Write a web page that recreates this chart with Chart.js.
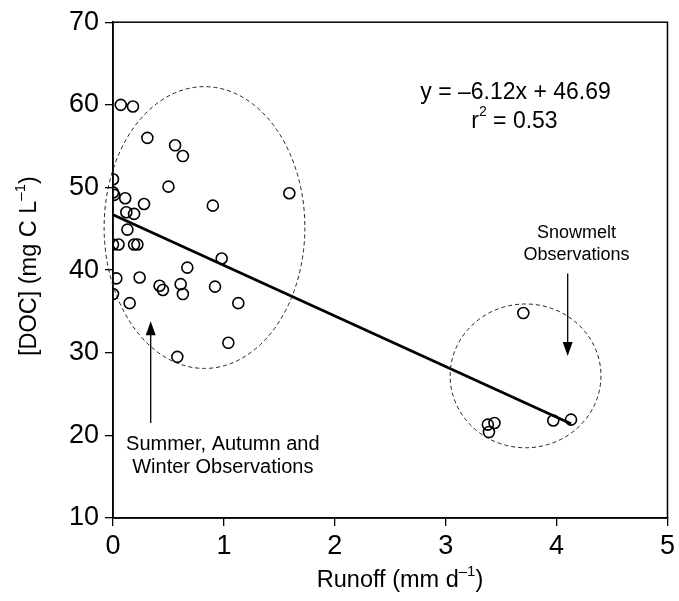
<!DOCTYPE html>
<html>
<head>
<meta charset="utf-8">
<script src="https://cdn.jsdelivr.net/npm/chart.js@4/dist/chart.umd.min.js"></script>
<style>
  html, body { margin: 0; padding: 0; background: #fff; }
  #wrap { width: 679px; height: 601px; }
</style>
</head>
<body>
<div id="wrap"><canvas id="docChart" width="679" height="601"></canvas></div>
<script>
// Runoff (mm/d) vs stream DOC (mg C/L)
const summerRunoff = [0.07, 0.18, 0.31, 0.56, 0.63, 0.00, 0.00, 0.01, 0.50, 1.59,
                      0.11, 0.28, 0.90, 0.12, 0.19, 0.13, 0.00, 0.05, 0.19, 0.22,
                      0.98, 0.67, 0.03, 0.24, 0.61, 0.92, 0.42, 0.45, 0.63, 0.00,
                      0.15, 1.13, 1.04, 0.58];
const summerDoc    = [60.0, 59.8, 56.0, 55.1, 53.8, 51.0, 49.4, 49.1, 50.1, 49.3,
                      48.7, 48.0, 47.8, 47.0, 46.8, 44.9, 43.1, 43.1, 43.1, 43.1,
                      41.4, 40.3, 39.0, 39.1, 38.3, 38.0, 38.1, 37.6, 37.1, 37.1,
                      36.0, 36.0, 31.2, 29.5];
const snowRunoff = [3.70, 3.38, 3.44, 3.39, 3.97, 4.13];
const snowDoc    = [34.8, 21.3, 21.5, 20.4, 21.8, 21.9];

// least-squares fit as printed on the chart
const fitSlope = -6.12;
const fitIntercept = 46.69;
const fitRange = [0, 4.13];

const xTicks = [0, 1, 2, 3, 4, 5];
const yTicks = [10, 20, 30, 40, 50, 60, 70];

// dashed groupings: [centre x, centre y, radius x, radius y] in data units
const groupEllipses = [
  [0.825, 45.15, 0.905, 17.05],
  [3.72, 27.2, 0.68, 8.7]
];

const FONT = "'Liberation Sans', Arial, Helvetica, sans-serif";

const points = (xs, ys) => xs.map((x, i) => ({ x: x, y: ys[i] }));
const fitLine = fitRange.map(x => ({ x: x, y: fitIntercept + fitSlope * x }));

// text with an optional superscript piece, centred on (x, y)
function drawSupText(ctx, parts, x, y, size) {
  const small = Math.round(size * 0.62);
  let total = 0;
  parts.forEach(p => {
    ctx.font = (p.sup ? small : size) + 'px ' + FONT;
    p.w = ctx.measureText(p.t).width;
    total += p.w;
  });
  let cx = x - total / 2;
  ctx.textAlign = 'left';
  ctx.textBaseline = 'middle';
  parts.forEach(p => {
    ctx.font = (p.sup ? small : size) + 'px ' + FONT;
    ctx.fillText(p.t, cx, p.sup ? y - size * 0.38 : y);
    cx += p.w;
  });
}

function arrow(ctx, x, y0, y1) {
  // line from y0 to the tip at y1
  const dir = y1 > y0 ? 1 : -1;
  ctx.beginPath();
  ctx.moveTo(x, y0);
  ctx.lineTo(x, y1 - dir * 12);
  ctx.lineWidth = 1.3;
  ctx.stroke();
  ctx.beginPath();
  ctx.moveTo(x, y1);
  ctx.lineTo(x - 5, y1 - dir * 14);
  ctx.lineTo(x + 5, y1 - dir * 14);
  ctx.closePath();
  ctx.fill();
}

const extras = {
  id: 'extras',
  afterDatasetsDraw(chart) {
    const { ctx, chartArea: a, scales: { x, y } } = chart;
    ctx.save();
    ctx.strokeStyle = '#000';
    ctx.fillStyle = '#000';

    // frame
    ctx.lineWidth = 1.5;
    ctx.strokeRect(a.left, a.top, a.right - a.left, a.bottom - a.top);

    // dashed group outlines
    ctx.setLineDash([4, 3]);
    ctx.lineWidth = 1;
    ctx.strokeStyle = '#222';
    groupEllipses.forEach(([cx, cy, rx, ry]) => {
      const px = x.getPixelForValue(cx), py = y.getPixelForValue(cy);
      const rpx = x.getPixelForValue(cx + rx) - px;
      const rpy = py - y.getPixelForValue(cy + ry);
      ctx.beginPath();
      ctx.ellipse(px, py, rpx, rpy, 0, 0, Math.PI * 2);
      ctx.stroke();
    });
    ctx.setLineDash([]);
    ctx.strokeStyle = '#000';

    // arrows
    arrow(ctx, x.getPixelForValue(0.34), y.getPixelForValue(21.5), y.getPixelForValue(33.8));
    arrow(ctx, x.getPixelForValue(4.10), y.getPixelForValue(39.6), y.getPixelForValue(29.6));

    // annotations
    ctx.textAlign = 'center';
    ctx.textBaseline = 'middle';
    ctx.font = '20px ' + FONT;
    ctx.fillText('Summer, Autumn and', x.getPixelForValue(0.99), y.getPixelForValue(18.9));
    ctx.fillText('Winter Observations', x.getPixelForValue(0.99), y.getPixelForValue(16.1));
    ctx.font = '18px ' + FONT;
    ctx.fillText('Snowmelt', x.getPixelForValue(4.18), y.getPixelForValue(44.5));
    ctx.fillText('Observations', x.getPixelForValue(4.18), y.getPixelForValue(41.8));

    ctx.font = '23px ' + FONT;
    ctx.fillText('y = \u20136.12x + 46.69', x.getPixelForValue(3.63), y.getPixelForValue(61.45));
    drawSupText(ctx, [{ t: 'r' }, { t: '2', sup: true }, { t: ' = 0.53' }],
      x.getPixelForValue(3.62), y.getPixelForValue(58.0), 23);

    // axis titles
    drawSupText(ctx, [{ t: 'Runoff (mm d' }, { t: '\u20131', sup: true }, { t: ')' }],
      400, 581, 23.5);
    ctx.translate(30, (a.top + a.bottom) / 2 - 4);
    ctx.rotate(-Math.PI / 2);
    drawSupText(ctx, [{ t: '[DOC] (mg C L' }, { t: '\u20131', sup: true }, { t: ')' }], 0, 0, 23.5);
    ctx.restore();
  }
};

const pointStyle = {
  showLine: false,
  pointStyle: 'circle',
  pointRadius: 5.5,
  pointHoverRadius: 5.5,
  pointBorderWidth: 1.6,
  pointBorderColor: '#000',
  pointBackgroundColor: 'rgba(0,0,0,0)'
};

new Chart(document.getElementById('docChart'), {
  type: 'scatter',
  data: {
    datasets: [
      Object.assign({ label: 'Summer, Autumn and Winter', data: points(summerRunoff, summerDoc) }, pointStyle),
      Object.assign({ label: 'Snowmelt', data: points(snowRunoff, snowDoc) }, pointStyle),
      {
        label: 'Fit',
        type: 'line',
        data: fitLine,
        borderColor: '#000',
        borderWidth: 2.8,
        pointRadius: 0,
        fill: false
      }
    ]
  },
  options: {
    responsive: false,
    animation: false,
    layout: { padding: { top: 21, right: 6, left: 0, bottom: 0 } },
    plugins: { legend: { display: false }, tooltip: { enabled: false } },
    scales: {
      x: {
        type: 'linear',
        min: 0,
        max: 5,
        afterBuildTicks: s => { s.ticks = xTicks.map(v => ({ value: v })); },
        afterFit: s => { s.height = 83; },
        ticks: { color: '#000', font: { family: FONT, size: 27 }, padding: 4, maxRotation: 0 },
        grid: { drawOnChartArea: false, drawTicks: true, tickLength: 8, color: '#000', lineWidth: 1.3 },
        border: { color: '#000', width: 1.5 }
      },
      y: {
        min: 10,
        max: 70,
        afterBuildTicks: s => { s.ticks = yTicks.map(v => ({ value: v })); },
        afterFit: s => { s.width = 113; },
        ticks: { color: '#000', font: { family: FONT, size: 27 }, padding: 6 },
        grid: { drawOnChartArea: false, drawTicks: true, tickLength: 8, color: '#000', lineWidth: 1.3 },
        border: { color: '#000', width: 1.5 }
      }
    }
  },
  plugins: [extras]
});
</script>
</body>
</html>
